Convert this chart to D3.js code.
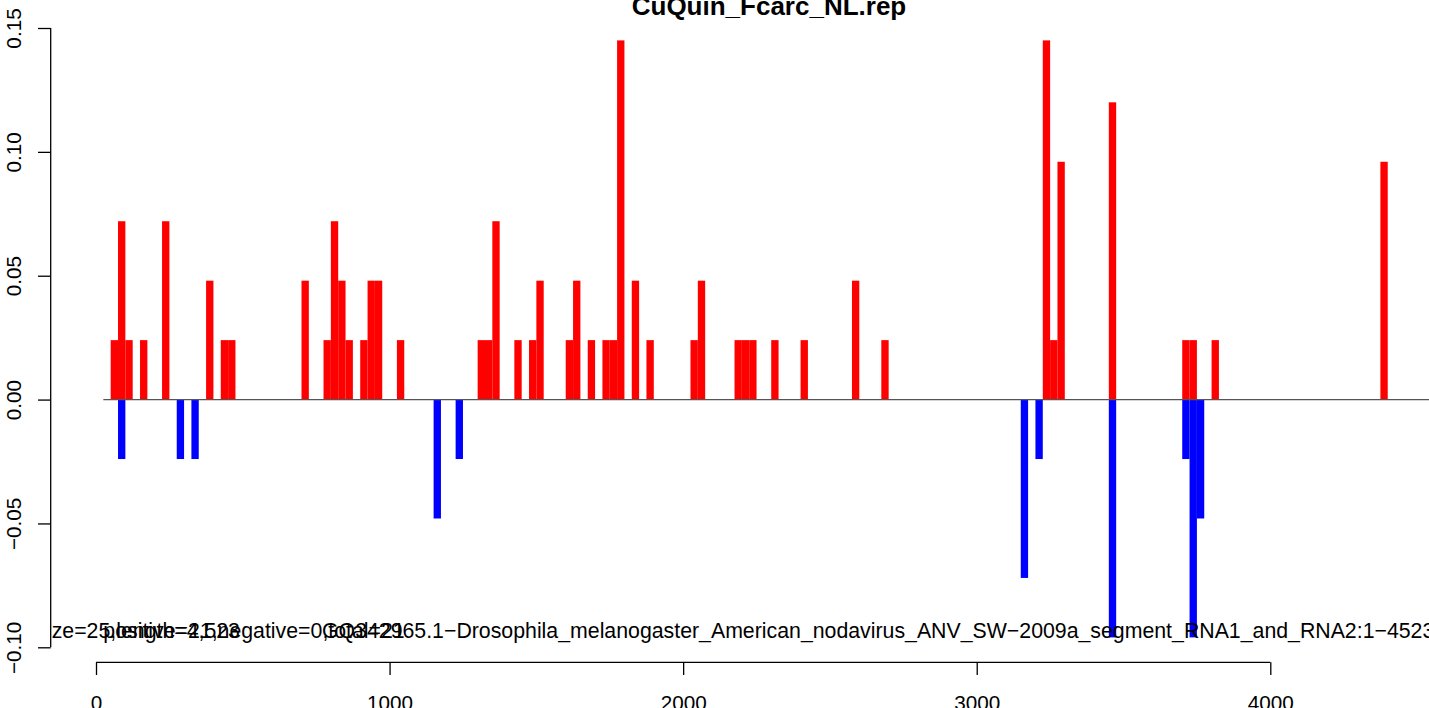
<!DOCTYPE html>
<html lang="en">
  <head>
    <meta charset="UTF-8" />
    <title>CuQuin_Fcarc_NL.rep</title>
    <script src="https://d3js.org/d3.v7.min.js"></script>
    <style>
      body { margin: 0; background: #fff; }
      svg { display: block; font-family: "Liberation Sans", Arial, sans-serif; }
      .axis path, .axis line { stroke: #000; stroke-width: 1.3px; }
      .axis text { font-size: 20.7px; fill: #000; }
    </style>
  </head>
  <body>
    <svg width="1429" height="708"></svg>
    <script>
      const width = 1429;
      const height = 708;

      // bin starts (bp) and heights, window = 25 bp
      const binSize = 25;
      const posStart = [50, 75, 100, 150, 225, 375, 425, 450, 700, 775, 800, 825, 850, 900, 925, 950,
        1025, 1300, 1325, 1350, 1425, 1475, 1500, 1600, 1625, 1675, 1725, 1750, 1775, 1825, 1875,
        2025, 2050, 2175, 2200, 2225, 2300, 2400, 2575, 2675, 3225, 3250, 3275, 3450, 3700, 3725,
        3800, 4375];
      const posValue = [0.024, 0.072, 0.024, 0.024, 0.072, 0.048, 0.024, 0.024, 0.048, 0.024, 0.072,
        0.048, 0.024, 0.024, 0.048, 0.048, 0.024, 0.024, 0.024, 0.072, 0.024, 0.024, 0.048, 0.024,
        0.048, 0.024, 0.024, 0.024, 0.145, 0.048, 0.024, 0.024, 0.048, 0.024, 0.024, 0.024, 0.024,
        0.024, 0.048, 0.024, 0.145, 0.024, 0.096, 0.12, 0.024, 0.024, 0.024, 0.096];
      const negStart = [75, 275, 325, 1150, 1225, 3150, 3200, 3450, 3700, 3725, 3750];
      const negValue = [-0.024, -0.024, -0.024, -0.048, -0.024, -0.072, -0.024, -0.096, -0.024,
        -0.096, -0.048];

      const xTicks = [0, 1000, 2000, 3000, 4000];
      const yTicks = [-0.1, -0.05, 0, 0.05, 0.1, 0.15];
      const seqLength = 4523;

      const title = "CuQuin_Fcarc_NL.rep";
      const note1 = "size=25,length=4,523";
      const note2 = "positive=21,negative=0,total=21";
      const note3 = "GQ342965.1\u2212Drosophila_melanogaster_American_nodavirus_ANV_SW\u22122009a_segment_RNA1_and_RNA2:1\u22124523";

      const svg = d3.select("svg");

      const x = d3.scaleLinear().domain([0, 4000]).range([96, 1270.3]);
      const y = d3.scaleLinear().domain([-0.1, 0.15]).range([647.3, 28]);
      const plotLeft = 50.7;

      svg.append("defs").append("clipPath").attr("id", "plot")
        .append("rect").attr("x", plotLeft).attr("y", 0)
        .attr("width", width - plotLeft).attr("height", height);

      const plot = svg.append("g").attr("clip-path", "url(#plot)");

      // positive strand bars
      plot.selectAll(".pos")
        .data(posStart.map((s, i) => ({ s, v: posValue[i] })))
        .enter().append("rect")
        .attr("class", "pos")
        .attr("x", d => x(d.s))
        .attr("width", d => x(d.s + binSize) - x(d.s))
        .attr("y", d => y(d.v))
        .attr("height", d => y(0) - y(d.v))
        .attr("fill", "#ff0000");

      // negative strand bars
      plot.selectAll(".neg")
        .data(negStart.map((s, i) => ({ s, v: negValue[i] })))
        .enter().append("rect")
        .attr("class", "neg")
        .attr("x", d => x(d.s))
        .attr("width", d => x(d.s + binSize) - x(d.s))
        .attr("y", y(0))
        .attr("height", d => y(d.v) - y(0))
        .attr("fill", "#0000ff");

      // zero line
      plot.append("line")
        .attr("x1", x(binSize)).attr("x2", x(seqLength + 200))
        .attr("y1", y(0)).attr("y2", y(0))
        .attr("stroke", "#555").attr("stroke-width", 1.2);

      // overlapping annotation strings at the bottom
      const notes = plot.append("g")
        .attr("font-size", "21.3px")
        .attr("fill", "#000");
      notes.append("text").attr("x", 36.3).attr("y", 638).text(note1);
      notes.append("text").attr("x", x(binSize)).attr("y", 638).text(note2);
      notes.append("text").attr("x", 322).attr("y", 638).text(note3);

      // y axis, labels turned
      const yAxis = svg.append("g")
        .attr("class", "axis")
        .attr("transform", `translate(${plotLeft},0)`)
        .call(d3.axisLeft(y).tickValues(yTicks).tickSize(12.7)
          .tickFormat(d3.format(".2f")));
      yAxis.select(".domain").attr("d", `M0,${y(0.15)}V${y(-0.1)}`);
      yAxis.selectAll(".tick text")
        .attr("x", null).attr("dy", null)
        .attr("text-anchor", "middle")
        .attr("transform", "translate(-29.5,0) rotate(-90)")
        .text(d => d3.format(".2f")(d).replace("-", "\u2212"));

      // x axis
      const xAxis = svg.append("g")
        .attr("class", "axis")
        .attr("transform", "translate(0,662.3)")
        .call(d3.axisBottom(x).tickValues(xTicks).tickSize(12.7).tickFormat(d3.format("d")));
      xAxis.select(".domain").attr("d", `M${x(0)},0H${x(4000)}`);
      xAxis.selectAll(".tick text").attr("dy", null).attr("y", 47.5);

      // title
      svg.append("text")
        .attr("x", 769).attr("y", 15)
        .attr("text-anchor", "middle")
        .attr("font-size", "26px")
        .attr("font-weight", "bold")
        .text(title);
    </script>
  </body>
</html>
